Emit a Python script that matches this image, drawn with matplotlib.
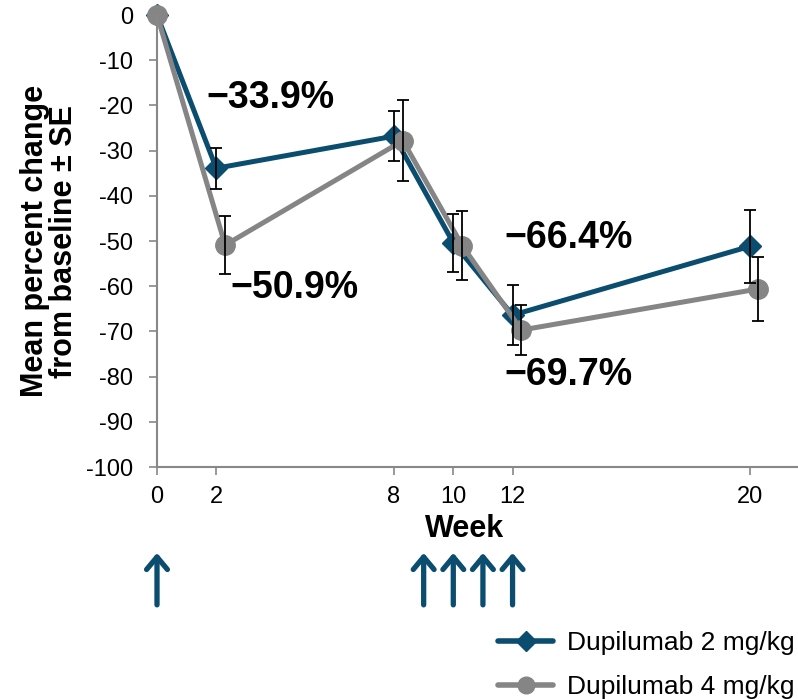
import numpy as np
import matplotlib
matplotlib.use("Agg")
import matplotlib.pyplot as plt
from matplotlib.lines import Line2D

plt.rcParams['font.family'] = ['Liberation Sans', 'DejaVu Sans']

# data
weeks = np.array([0, 2, 8, 10, 12, 20])
mean_2mg = np.array([0, -33.9, -26.8, -50.4, -66.4, -51.2])
se_2mg = np.array([np.nan, 4.5, 5.6, 6.4, 6.6, 8.0])
mean_4mg = np.array([0, -50.9, -27.8, -51.0, -69.7, -60.6])
se_4mg = np.array([np.nan, 6.5, 9.0, 7.7, 5.5, 7.0])
dose_weeks = [0, 9, 10, 11, 12]
yticks = [0, -10, -20, -30, -40, -50, -60, -70, -80, -90, -100]

blue = '#0b4d6e'
grey = '#858585'

fig = plt.figure(figsize=(7.98, 6.99), dpi=100)
ax = fig.add_axes([157/798, 1-467/699, 640/798, 452/699])

# grey series is shifted a bit to the right so the bars don't overlap
x4 = np.where(weeks > 0, weeks + 0.3, weeks)

ax.errorbar(weeks, mean_2mg, yerr=se_2mg, fmt='none', ecolor='black', elinewidth=1.3,
            capsize=4.5, capthick=1.3, zorder=3, clip_on=False)
ax.errorbar(x4, mean_4mg, yerr=se_4mg, fmt='none', ecolor='black', elinewidth=1.3,
            capsize=4.5, capthick=1.3, zorder=3, clip_on=False)
ax.plot(weeks, mean_2mg, color=blue, lw=3.6, marker='D', ms=11, zorder=2, clip_on=False)
ax.plot(x4, mean_4mg, color=grey, lw=3.6, marker='o', ms=14, zorder=2.5, clip_on=False)

# value labels
ax.text(3.82, -18.4, '\u2212%.1f%%' % -mean_2mg[1], fontsize=27, fontweight='bold', ha='center', va='center')
ax.text(4.63, -60.4, '\u2212%.1f%%' % -mean_4mg[1], fontsize=27, fontweight='bold', ha='center', va='center')
ax.text(13.9, -49.3, '\u2212%.1f%%' % -mean_2mg[4], fontsize=27, fontweight='bold', ha='center', va='center')
ax.text(13.9, -79.6, '\u2212%.1f%%' % -mean_4mg[4], fontsize=27, fontweight='bold', ha='center', va='center')

ax.set_xlim(0, 21.6)
ax.set_ylim(-100, 0)
ax.set_xticks(weeks)
ax.set_xticklabels([str(w) for w in weeks])
ax.set_yticks(yticks)
ax.set_yticklabels([str(t) for t in yticks])
ax.tick_params(axis='y', length=6, width=1.2, color='#888888', labelsize=17, pad=11)
ax.tick_params(axis='x', length=6, width=1.2, color='#888888', labelsize=17, pad=8)
for s in ['top', 'right']:
    ax.spines[s].set_visible(False)
for s in ['left', 'bottom']:
    ax.spines[s].set_color('#888888')
    ax.spines[s].set_linewidth(1.5)

ax.set_xlabel('Week', fontsize=22, fontweight='bold')
ax.xaxis.set_label_coords(0.481, -0.105)
ax.set_ylabel('Mean percent change\nfrom baseline \u00b1 SE', fontsize=22, fontweight='bold',
              linespacing=0.95)
ax.yaxis.set_label_coords(-0.122, 0.5)

# dosing arrows
for w in dose_weeks:
    ax.annotate('', xy=(w, -0.19), xytext=(w, -0.305), xycoords=ax.get_xaxis_transform(),
                textcoords=ax.get_xaxis_transform(),
                arrowprops=dict(arrowstyle='->, head_length=0.9, head_width=0.75', lw=3.8,
                                color=blue, shrinkA=0, shrinkB=0))

handles = [Line2D([], [], color=blue, lw=4, marker='D', ms=10, solid_capstyle='round'),
           Line2D([], [], color=grey, lw=4, marker='o', ms=12, solid_capstyle='round')]
fig.legend(handles, ['Dupilumab 2 mg/kg', 'Dupilumab 4 mg/kg'], loc='upper left',
           bbox_to_anchor=(498/798, 1-631/699), frameon=False, fontsize=19,
           handlelength=2.1, handletextpad=0.5, labelspacing=0.76, borderpad=0, borderaxespad=0)

fig.savefig('out.png', dpi=100)
